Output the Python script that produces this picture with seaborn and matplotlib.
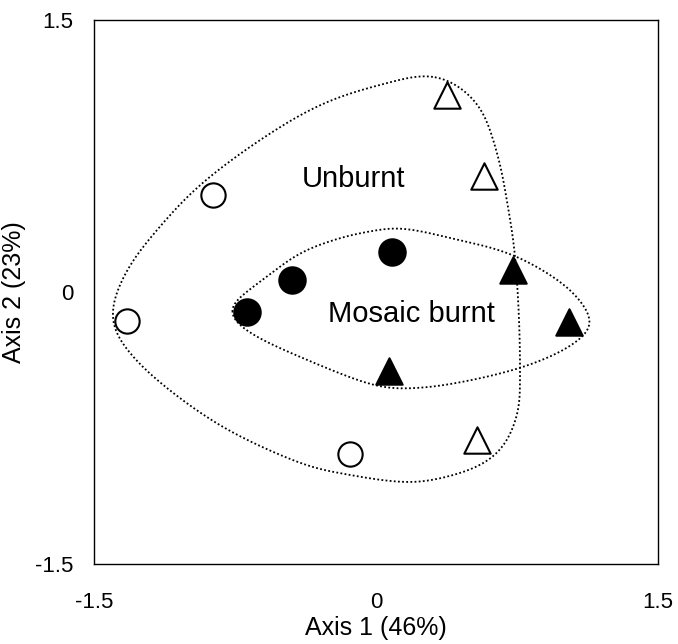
import numpy as np
import pandas as pd
import matplotlib
matplotlib.use("Agg")
import matplotlib.pyplot as plt
import seaborn as sns

# Ordination scores for each site (Axis 1, Axis 2)
unburnt_circle_x = [-0.867, -1.324, -0.138]
unburnt_circle_y = [0.535, -0.160, -0.894]
unburnt_triangle_x = [0.378, 0.574, 0.537]
unburnt_triangle_y = [1.089, 0.640, -0.816]
mosaic_circle_x = [0.085, -0.447, -0.686]
mosaic_circle_y = [0.221, 0.066, -0.110]
mosaic_triangle_x = [0.729, 1.027, 0.069]
mosaic_triangle_y = [0.121, -0.165, -0.436]

# Outline points of the group envelopes
unburnt_hull_x = [0.314, 0.537, 0.644, 0.702, 0.739, 0.761, 0.766, 0.755, 0.676,
                  0.537, 0.303, 0.128, -0.138, -0.404, -0.814, -1.165, -1.362,
                  -1.404, -1.324, -1.165, -0.936, -0.617, -0.298, 0.021]
unburnt_hull_y = [1.191, 1.042, 0.767, 0.469, 0.204, -0.154, -0.485, -0.667, -0.855,
                  -0.965, -1.037, -1.048, -1.009, -0.943, -0.745, -0.485, -0.265,
                  -0.099, 0.121, 0.342, 0.590, 0.838, 1.031, 1.142]
mosaic_hull_x = [-0.787, -0.723, -0.590, -0.404, -0.191, -0.048, 0.128, 0.394, 0.729,
                 1.016, 1.150, 1.112, 0.979, 0.766, 0.484, 0.218, -0.016, -0.404, -0.670]
mosaic_hull_y = [-0.110, -0.028, 0.077, 0.215, 0.298, 0.331, 0.353, 0.298, 0.204,
                 0.028, -0.154, -0.237, -0.331, -0.419, -0.491, -0.530, -0.513, -0.358, -0.226]

tick_values = [-1.5, 0, 1.5]
tick_labels = ["-1.5", "0", "1.5"]


def closed_spline(xs, ys, n=40):
    """Closed Catmull-Rom curve through the given outline points."""
    p = np.column_stack([xs, ys])
    m = len(p)
    out = []
    for i in range(m):
        p0, p1, p2, p3 = p[(i - 1) % m], p[i], p[(i + 1) % m], p[(i + 2) % m]
        t = np.linspace(0, 1, n, endpoint=False)[:, None]
        seg = 0.5 * ((2 * p1) + (-p0 + p2) * t + (2 * p0 - 5 * p1 + 4 * p2 - p3) * t ** 2
                     + (-p0 + 3 * p1 - 3 * p2 + p3) * t ** 3)
        out.append(seg)
    return np.vstack(out)


def smooth_outline(xs, ys, sigma=0.06, n=1200):
    """Resample the closed curve by arc length and smooth it with a circular Gaussian."""
    p = closed_spline(xs, ys)
    closed = np.vstack([p, p[:1]])
    seg = np.hypot(*np.diff(closed, axis=0).T)
    s = np.concatenate([[0], np.cumsum(seg)])
    total = s[-1]
    su = np.linspace(0, total, n, endpoint=False)
    rx = np.interp(su, s, closed[:, 0])
    ry = np.interp(su, s, closed[:, 1])
    ds = total / n
    k = np.arange(-n // 2, n // 2)
    w = np.exp(-0.5 * (k * ds / sigma) ** 2)
    w = np.fft.ifftshift(w / w.sum())
    sx = np.real(np.fft.ifft(np.fft.fft(rx) * np.fft.fft(w)))
    sy = np.real(np.fft.ifft(np.fft.fft(ry) * np.fft.fft(w)))
    return np.append(sx, sx[0]), np.append(sy, sy[0])


sns.set_theme(style="white")
plt.rcParams["font.family"] = ["Liberation Sans", "DejaVu Sans"]

fig = plt.figure(figsize=(6.78, 6.44), dpi=100)
ax = fig.add_axes([94 / 678, 1 - 564 / 644, 564 / 678, 544 / 644])

groups = [
    (unburnt_circle_x, unburnt_circle_y, "o", "white", 17.5),
    (unburnt_triangle_x, unburnt_triangle_y, "^", "white", 19),
    (mosaic_circle_x, mosaic_circle_y, "o", "black", 19),
    (mosaic_triangle_x, mosaic_triangle_y, "^", "black", 19),
]
for xs, ys, mk, fc, ms in groups:
    df = pd.DataFrame({"Axis 1": xs, "Axis 2": ys})
    sns.scatterplot(data=df, x="Axis 1", y="Axis 2", marker=mk, s=ms ** 2,
                    facecolor=fc, edgecolor="black", linewidth=1.5, ax=ax, zorder=3)

for hx, hy in [(unburnt_hull_x, unburnt_hull_y), (mosaic_hull_x, mosaic_hull_y)]:
    cx, cy = smooth_outline(hx, hy)
    ax.plot(cx, cy, color="black", linewidth=1.3, linestyle=(0, (1, 1.3)), zorder=2)

ax.text(-0.122, 0.579, "Unburnt", ha="center", va="baseline", fontsize=21, color="black")
ax.text(0.191, -0.165, "Mosaic burnt", ha="center", va="baseline", fontsize=21, color="black")

ax.set_xlim(-1.5, 1.5)
ax.set_ylim(-1.5, 1.5)
ax.set_xticks(tick_values)
ax.set_xticklabels(tick_labels)
ax.set_yticks(tick_values)
ax.set_yticklabels(tick_labels)
ax.tick_params(axis="x", length=0, pad=20, labelsize=16, colors="black")
ax.tick_params(axis="y", length=0, pad=15, labelsize=16, colors="black")
ax.set_xlabel("Axis 1 (46%)", fontsize=18, color="black", labelpad=2)
ax.set_ylabel("Axis 2 (23%)", fontsize=18, color="black", labelpad=6)

for side in ["left", "right", "top", "bottom"]:
    ax.spines[side].set_visible(True)
    ax.spines[side].set_color("black")
    ax.spines[side].set_linewidth(1.0)

fig.savefig("out.png", dpi=100, facecolor="white")
